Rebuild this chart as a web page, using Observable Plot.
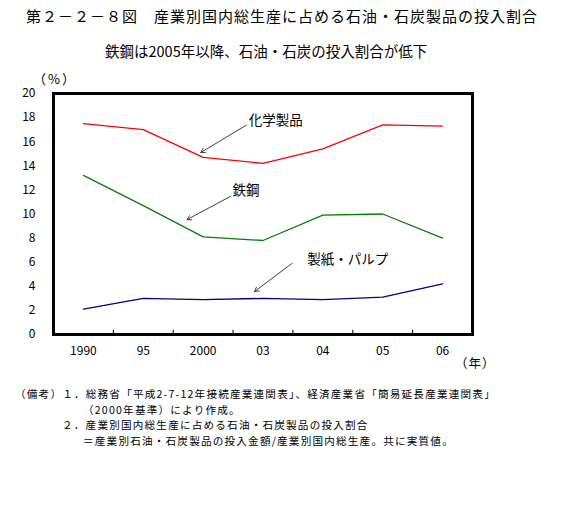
<!DOCTYPE html>
<html><head><meta charset="utf-8">
<script src="https://cdn.jsdelivr.net/npm/d3@7"></script>
<script src="https://cdn.jsdelivr.net/npm/@observablehq/plot@0.6"></script>
<style>
body{margin:0;background:#fff;font-family:"Noto Sans CJK JP",sans-serif;}
#wrap{position:relative;width:587px;height:515px;}
#wrap .t{position:absolute;white-space:pre;line-height:1;color:#000;}
#wrap .n{font-size:10.6px;letter-spacing:1.2px;}
#chart{position:absolute;left:0;top:0;}
</style></head>
<body>
<div id="wrap">
<div id="chart"></div>
<div class="t" style="left:26px;top:7.5px;font-size:15px;letter-spacing:1px;">第２－２－８図　産業別国内総生産に占める石油・石炭製品の投入割合</div>
<div class="t" style="left:105px;top:44px;font-size:14.5px;">鉄鋼は2005年以降、石油・石炭の投入割合が低下</div>
<div class="t" style="left:33px;top:71.5px;font-size:13px;letter-spacing:2px;">（%）</div>
<div class="t" style="left:455px;top:357px;font-size:12.5px;letter-spacing:1px;">（年）</div>
<div class="t n" style="left:15px;top:389px;">（備考）１．総務省「平成2-7-12年接続産業連関表」、経済産業省「簡易延長産業連関表」</div>
<div class="t n" style="left:83px;top:404.5px;">（2000年基準）により作成。</div>
<div class="t n" style="left:62px;top:420px;">２．産業別国内総生産に占める石油・石炭製品の投入割合</div>
<div class="t n" style="left:83px;top:435.5px;">＝産業別石油・石炭製品の投入金額/産業別国内総生産。共に実質値。</div>
</div>
<script>
const years = ["1990", "95", "2000", "03", "04", "05", "06"];
const chemical = [17.5, 17.0, 14.7, 14.2, 15.4, 17.4, 17.3];
const steel = [13.2, 10.7, 8.1, 7.8, 9.9, 10.0, 8.0];
const paper = [2.1, 3.0, 2.9, 3.0, 2.9, 3.1, 4.2];
const seriesNames = ["化学製品", "鉄鋼", "製紙・パルプ"];
const seriesColors = ["#ff0000", "#008000", "#000080"];
// annotation positions in data units (x = category index, y = %)
const labelX = [2.76, 2.49, 3.74];
const labelY = [17.78, 11.91, 6.21];
const arrowX1 = [2.72, 2.46, 3.49];
const arrowY1 = [17.37, 11.47, 5.92];
const arrowX2 = [1.96, 1.73, 2.86];
const arrowY2 = [15.10, 9.53, 3.57];

const allSeries = [chemical, steel, paper];
const rows = [];
allSeries.forEach((vals, s) => vals.forEach((v, i) => rows.push({i, v, s: seriesNames[s]})));
const annots = seriesNames.map((name, k) => ({name, x: labelX[k], y: labelY[k], x1: arrowX1[k], y1: arrowY1[k], x2: arrowX2[k], y2: arrowY2[k]}));
const boundaries = years.slice(1).map((_, i) => i + 0.5);

const plot = Plot.plot({
  width: 587, height: 515,
  marginLeft: 53, marginTop: 93, marginRight: 115, marginBottom: 181,
  style: {fontFamily: '"Noto Sans CJK JP", sans-serif', fontSize: "12px", color: "#000", background: "transparent"},
  x: {domain: [-0.5, years.length - 0.5], ticks: d3.range(years.length), tickFormat: i => years[i], tickSize: 0, tickPadding: 12, label: null},
  y: {domain: [0, 20], ticks: d3.range(0, 21, 2), tickSize: 0, tickPadding: 18, label: null},
  color: {domain: seriesNames, range: seriesColors},
  marks: [
    Plot.ruleX(boundaries, {x: d => d, y1: 0, y2: 0.35, stroke: "#000", strokeWidth: 1}),
    Plot.line(rows, {x: "i", y: "v", z: "s", stroke: "s", strokeWidth: 1.3}),
    Plot.arrow(annots, {x1: "x1", y1: "y1", x2: "x2", y2: "y2", stroke: "#404040", strokeWidth: 1, headLength: 7}),
    Plot.text(annots, {x: "x", y: "y", text: "name", textAnchor: "start", fontSize: 13.5, fill: "#000"}),
    Plot.frame({stroke: "#000", strokeWidth: 3})
  ]
});
document.getElementById("chart").appendChild(plot);
</script>
</body></html>
